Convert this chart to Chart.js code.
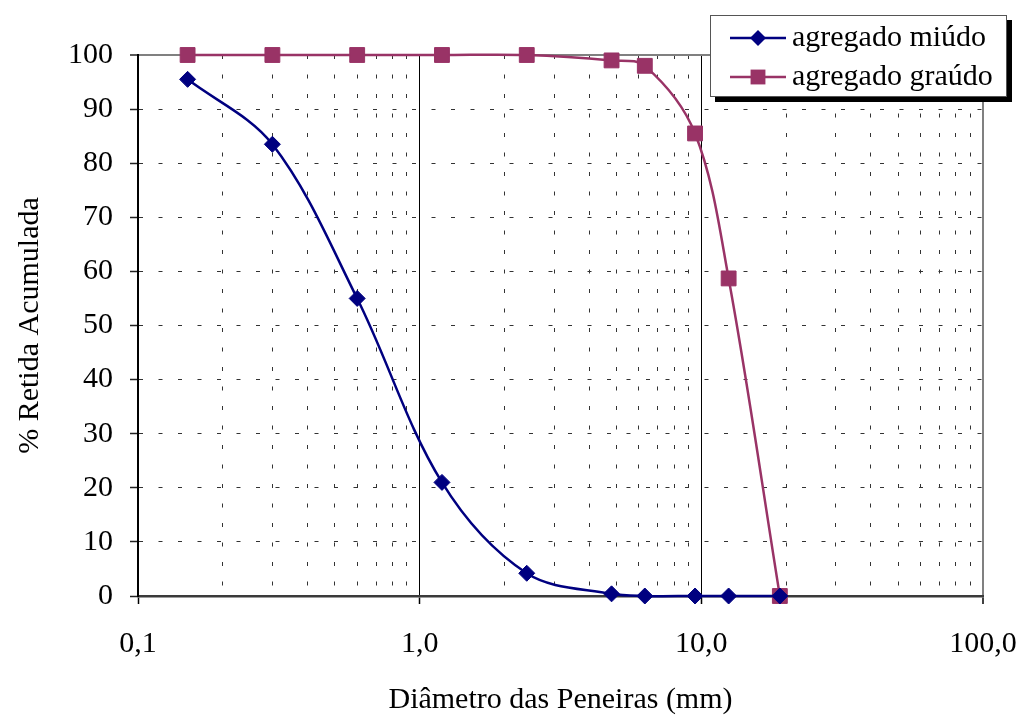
<!DOCTYPE html>
<html>
<head>
<meta charset="utf-8">
<title>Curva granulométrica</title>
<script src="https://cdn.jsdelivr.net/npm/chart.js@4.4.1/dist/chart.umd.min.js"></script>
<style>
  body { margin: 0; background: #fff; }
  canvas { display: block; }
</style>
</head>
<body>
<canvas id="granulometria" width="1022" height="718"></canvas>
<script>
// abertura das peneiras (mm)
var diametros = [0.15, 0.3, 0.6, 1.2, 2.4, 4.8, 6.3, 9.5, 12.5, 19];
// % retida acumulada
var miudo = [95.5, 83.5, 55, 21, 4.2, 0.4, 0, 0, 0, 0];
var graudo = [100, 100, 100, 100, 100, 99, 98, 85.5, 58.7, 0];

var decadas = [0.1, 1, 10, 100];
var rotulosX = ['0,1', '1,0', '10,0', '100,0'];

var corMiudo = '#000080';
var corGraudo = '#993366';
var fonte = '"Liberation Serif", "Times New Roman", serif';

// marcas do eixo x: 1..9 de cada década
var marcasX = [];
for (var d = 0; d < decadas.length - 1; d++) {
    for (var k = 1; k <= 9; k++) marcasX.push(decadas[d] * k);
}
marcasX.push(decadas[decadas.length - 1]);

var pontos = function(ys) {
    return diametros.map(function(x, i) { return {x: x, y: ys[i]}; });
};

var indiceDecada = function(v) {
    for (var i = 0; i < decadas.length; i++) {
        if (Math.abs(v / decadas[i] - 1) < 1e-6) return i;
    }
    return -1;
};

var valorTick = function(ctx) {
    return ctx && ctx.tick ? ctx.tick.value : undefined;
};

// legenda em caixa com sombra, desenhada por cima do gráfico
var legendaCaixa = {
    id: 'legendaCaixa',
    afterDraw: function(chart) {
        var ctx = chart.ctx;
        var x = 710, y = 15, w = 297, h = 82;
        ctx.save();
        ctx.fillStyle = '#000';
        ctx.fillRect(x + 5, y + 5, w, h);
        ctx.fillStyle = '#fff';
        ctx.fillRect(x, y, w, h);
        ctx.strokeStyle = '#555';
        ctx.lineWidth = 1;
        ctx.strokeRect(x + 0.5, y + 0.5, w - 1, h - 1);

        chart.data.datasets.forEach(function(ds, i) {
            var ly = 38 + i * 39;
            ctx.strokeStyle = ds.borderColor;
            ctx.lineWidth = 2.5;
            ctx.beginPath();
            ctx.moveTo(730, ly);
            ctx.lineTo(786, ly);
            ctx.stroke();
            ctx.fillStyle = ds.backgroundColor;
            ctx.beginPath();
            if (ds.pointStyle === 'rectRot') {
                var r = ds.pointRadius;
                ctx.moveTo(758 - r, ly);
                ctx.lineTo(758, ly - r);
                ctx.lineTo(758 + r, ly);
                ctx.lineTo(758, ly + r);
                ctx.closePath();
            } else {
                var s = ds.pointRadius * Math.SQRT1_2;
                ctx.rect(758 - s, ly - s, 2 * s, 2 * s);
            }
            ctx.fill();
            ctx.fillStyle = '#000';
            ctx.font = '30px ' + fonte;
            ctx.textBaseline = 'middle';
            ctx.textAlign = 'left';
            ctx.fillText(ds.label, 792, ly);
        });
        ctx.restore();
    }
};

var ctx = document.getElementById('granulometria');
window.grafico = new Chart(ctx, {
    type: 'line',
    data: {
        datasets: [{
            label: 'agregado miúdo',
            data: pontos(miudo),
            borderColor: corMiudo,
            backgroundColor: corMiudo,
            pointStyle: 'rectRot',
            pointRadius: 8,
            pointBorderWidth: 1,
            borderWidth: 2.5,
            tension: 0.34,
            clip: false
        }, {
            label: 'agregado graúdo',
            data: pontos(graudo),
            borderColor: corGraudo,
            backgroundColor: corGraudo,
            pointStyle: 'rect',
            pointRadius: 10.5,
            pointBorderWidth: 1,
            borderWidth: 2.5,
            tension: 0.34,
            clip: false
        }]
    },
    options: {
        responsive: false,
        animation: false,
        layout: {
            padding: {top: 55, right: 39, left: 0, bottom: 0}
        },
        elements: {
            line: { capBezierPoints: false }
        },
        plugins: {
            legend: { display: false },
            tooltip: { enabled: false }
        },
        scales: {
            x: {
                type: 'logarithmic',
                min: 0.1,
                max: 100,
                afterBuildTicks: function(scale) {
                    scale.ticks = marcasX.map(function(v) { return {value: v}; });
                },
                afterFit: function(scale) {
                    scale.height = 122;
                    // o rótulo "100,0" pode ultrapassar a área
                    scale.paddingLeft = 0;
                    scale.paddingRight = 0;
                },
                ticks: {
                    autoSkip: false,
                    maxRotation: 0,
                    padding: 22,
                    color: '#000',
                    font: { family: fonte, size: 30 },
                    callback: function(v) {
                        var i = indiceDecada(v);
                        return i >= 0 ? rotulosX[i] : '';
                    }
                },
                grid: {
                    tickLength: 8,
                    color: function(c) {
                        var v = valorTick(c);
                        if (v === undefined) return '#000';
                        var i = indiceDecada(v);
                        if (i === 0) return 'rgba(0,0,0,0)';
                        if (i === decadas.length - 1) return '#808080';
                        return i > 0 ? '#000' : '#333';
                    },
                    lineWidth: function(c) {
                        var v = valorTick(c);
                        return v !== undefined && indiceDecada(v) === decadas.length - 1 ? 2 : 1;
                    },
                    tickColor: function(c) {
                        var v = valorTick(c);
                        return v !== undefined && indiceDecada(v) >= 0 ? '#000' : 'rgba(0,0,0,0)';
                    },
                    tickWidth: 1.5
                },
                border: {
                    color: '#3a3a3a',
                    width: 2.5,
                    dash: function(c) {
                        var v = valorTick(c);
                        return v !== undefined && indiceDecada(v) < 0 ? [4, 15.5] : [];
                    }
                },
                title: {
                    display: true,
                    text: 'Diâmetro das Peneiras (mm)',
                    color: '#000',
                    font: { family: fonte, size: 30 },
                    padding: {top: 0, bottom: 0}
                }
            },
            y: {
                min: 0,
                max: 100,
                afterFit: function(scale) { scale.width = 138; },
                ticks: {
                    stepSize: 10,
                    padding: 17,
                    color: '#000',
                    font: { family: fonte, size: 30 }
                },
                grid: {
                    tickLength: 8,
                    color: function(c) {
                        var v = valorTick(c);
                        if (v === 100) return '#808080';
                        if (v === 0) return 'rgba(0,0,0,0)';
                        return '#333';
                    },
                    lineWidth: function(c) {
                        return valorTick(c) === 100 ? 2 : 1;
                    },
                    tickColor: '#222',
                    tickWidth: 1.5
                },
                border: {
                    color: '#000',
                    width: 2,
                    dash: function(c) {
                        var v = valorTick(c);
                        return v !== undefined && v > 0 && v < 100 ? [4, 15.5] : [];
                    }
                },
                title: {
                    display: true,
                    text: '% Retida Acumulada',
                    color: '#000',
                    font: { family: fonte, size: 30 },
                    padding: {top: 12, bottom: 0}
                }
            }
        }
    },
    plugins: [legendaCaixa]
});
</script>
</body>
</html>
